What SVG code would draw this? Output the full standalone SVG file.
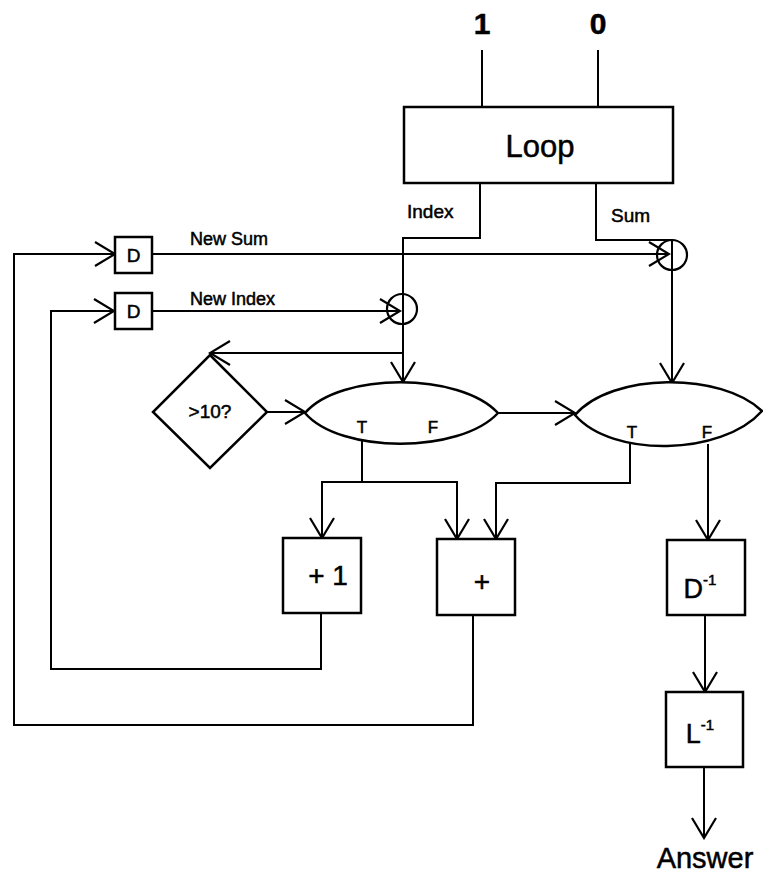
<svg xmlns="http://www.w3.org/2000/svg" width="763" height="880" viewBox="0 0 763 880">
<defs>
<style>
.box{fill:#fff;stroke:#000;stroke-width:2.5}
.ln{fill:none;stroke:#000;stroke-width:2}
.t{font-family:"Liberation Sans",Arial,sans-serif;fill:#000;stroke:#000;stroke-width:0.5}
</style>
<marker id="ah" markerUnits="userSpaceOnUse" markerWidth="24" markerHeight="28" viewBox="-22 -14 24 28" refX="0" refY="0" orient="auto">
<path d="M-20,-12 L0,0 L-20,12" fill="none" stroke="#000" stroke-width="2.2"/>
</marker>
</defs>
<rect width="763" height="880" fill="#fff"/>

<g id="in1"><text class="t" x="482" y="34" font-size="30" font-weight="bold" text-anchor="middle">1</text></g>
<g id="in0"><text class="t" x="598" y="34" font-size="30" font-weight="bold" text-anchor="middle">0</text></g>

<g id="connectors">
<path class="ln" d="M482,50 V107"/>
<path class="ln" d="M598,50 V107"/>
<path class="ln" d="M480,183 V238 H403 V382" marker-end="url(#ah)"/>
<path class="ln" d="M596,183 V240 H672 V383" marker-end="url(#ah)"/>
<path class="ln" d="M152,254 H669" marker-end="url(#ah)"/>
<path class="ln" d="M152,311 H400" marker-end="url(#ah)"/>
<path class="ln" d="M403,353 H210" marker-end="url(#ah)"/>
<path class="ln" d="M267,412 H305" marker-end="url(#ah)"/>
<path class="ln" d="M498,413 H575" marker-end="url(#ah)"/>
<path class="ln" d="M362,438 V482 H322 V538" marker-end="url(#ah)"/>
<path class="ln" d="M362,482 H457 V539" marker-end="url(#ah)"/>
<path class="ln" d="M630,441 V483 H496 V539" marker-end="url(#ah)"/>
<path class="ln" d="M708,444 V540" marker-end="url(#ah)"/>
<path class="ln" d="M705,615 V692" marker-end="url(#ah)"/>
<path class="ln" d="M704,767 V838" marker-end="url(#ah)"/>
<path class="ln" d="M321,613 V669 H51 V311 H114" marker-end="url(#ah)"/>
<path class="ln" d="M473,615 V725 H14 V254 H115" marker-end="url(#ah)"/>
</g>

<g id="loop">
<rect class="box" x="404" y="107" width="269" height="76"/>
<text class="t" x="540" y="157" font-size="31" text-anchor="middle">Loop</text>
</g>
<g id="label-index"><text class="t" x="407" y="218" font-size="19">Index</text></g>
<g id="label-sum"><text class="t" x="611" y="222" font-size="19">Sum</text></g>
<g id="label-newsum"><text class="t" x="190" y="245" font-size="18">New Sum</text></g>
<g id="label-newindex"><text class="t" x="190" y="305" font-size="18">New Index</text></g>

<g id="merge-index"><circle cx="402" cy="309" r="15" fill="none" stroke="#000" stroke-width="2.2"/></g>
<g id="merge-sum"><circle cx="672" cy="255" r="15" fill="none" stroke="#000" stroke-width="2.2"/></g>

<g id="delay-sum">
<rect class="box" x="115" y="237" width="37" height="36"/>
<text class="t" x="133.5" y="262" font-size="19" text-anchor="middle">D</text>
</g>
<g id="delay-index">
<rect class="box" x="115" y="293" width="37" height="36"/>
<text class="t" x="133.5" y="318" font-size="19" text-anchor="middle">D</text>
</g>

<g id="test">
<polygon class="box" points="210,355 267,412 210,468 153,412"/>
<text class="t" x="210" y="418" font-size="19" text-anchor="middle">&gt;10?</text>
</g>

<g id="switch-index">
<path class="box" d="M305,413 C340,372 460,372 498,413 C460,454 340,454 305,413 Z"/>
<text class="t" x="362" y="433" font-size="17" text-anchor="middle">T</text>
<text class="t" x="433" y="433" font-size="17" text-anchor="middle">F</text>
</g>
<g id="switch-sum">
<path class="box" d="M575,415 C612,372 722,372 762,411 C722,456 612,458 575,415 Z"/>
<text class="t" x="632" y="438" font-size="17" text-anchor="middle">T</text>
<text class="t" x="707" y="438" font-size="17" text-anchor="middle">F</text>
</g>

<g id="inc">
<rect class="box" x="283" y="538" width="78" height="75"/>
<text class="t" x="328" y="585" font-size="28" text-anchor="middle">+ 1</text>
</g>
<g id="add">
<rect class="box" x="437" y="539" width="78" height="76"/>
<text class="t" x="482" y="591" font-size="28" text-anchor="middle">+</text>
</g>

<g id="dinv">
<rect class="box" x="667" y="540" width="78" height="75"/>
<text class="t" x="700" y="598" font-size="27" text-anchor="middle">D<tspan font-size="15" dy="-13">-1</tspan></text>
</g>
<g id="linv">
<rect class="box" x="666" y="692" width="77" height="75"/>
<text class="t" x="700" y="743" font-size="27" text-anchor="middle">L<tspan font-size="15" dy="-13">-1</tspan></text>
</g>

<g id="answer"><text class="t" x="705" y="868" font-size="29" text-anchor="middle">Answer</text></g>
</svg>
